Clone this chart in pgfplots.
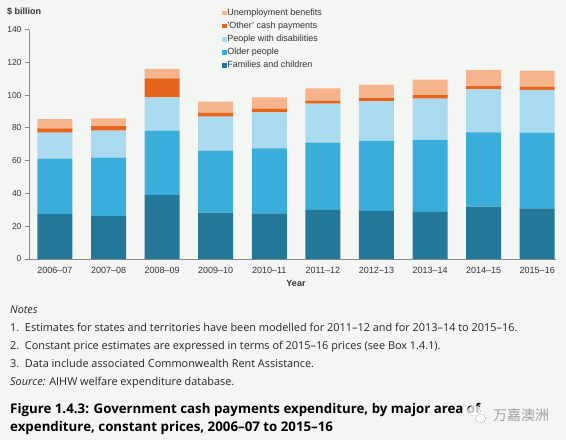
\documentclass[border=0pt]{standalone}
\usepackage{pgfplots}
\pgfplotsset{compat=1.18}
\usepackage{fontspec}
\setmainfont{Liberation Sans}
\newfontfamily\notesfont{Open Sans}
\newfontfamily\cjk{Noto Sans CJK SC}
\definecolor{bg}{HTML}{F4F6F3}
\definecolor{fam}{HTML}{24799A}
\definecolor{old}{HTML}{3AADDB}
\definecolor{dis}{HTML}{A9DAF0}
\definecolor{oth}{HTML}{E8641C}
\definecolor{une}{HTML}{F6B48C}
\definecolor{txt}{HTML}{333333}
\definecolor{axl}{HTML}{8A8A8A}
\begin{document}
\begin{tikzpicture}[x=1pt,y=1pt]
\fill[bg] (0pt,0pt) rectangle (566pt,-440pt);
\useasboundingbox (0pt,0pt) rectangle (566pt,-440pt);
\begin{axis}[
  at={(29pt,-259pt)}, anchor=south west,
  scale only axis, width=527pt, height=229.5pt,
  ybar stacked, bar width=35pt,
  ymin=0, ymax=140, xmin=-0.485, xmax=9.35,
  axis x line*=bottom, axis y line*=left,
  axis line style={axl, line width=0.9pt},
  ytick={0,20,...,140},
  xtick={0,...,9},
  xticklabels={2006–07,2007–08,2008–09,2009–10,2010–11,2011–12,2012–13,2013–14,2014–15,2015–16},
  x tick style={draw=none},
  y tick style={axl, line width=0.8pt},
  tick align=outside, major tick length=4pt,
  /pgf/number format/assume math mode=true,
  yticklabel style={font=\fontsize{8.5}{9}\selectfont, text=txt},
  xticklabel style={font=\fontsize{9}{10}\selectfont, text=txt, yshift=-0.5pt},
  xlabel={Year},
  xlabel style={font=\bfseries\fontsize{9}{10}\selectfont, text=txt, yshift=-0.5pt, xshift=3.5pt},
  reverse legend,
  legend cell align=left,
  legend style={at={(0.3666,1.0929)}, anchor=north west, draw=none, fill=none,
    font=\fontsize{9}{10}\selectfont, text=txt, inner sep=0pt,
    row sep=3.6pt, nodes={inner sep=0.5pt, text height=6.5pt, text depth=2pt}},
  legend image code/.code={\fill[#1,draw=none] (0pt,-2.2pt) rectangle (4.4pt,2.2pt);},
  clip=false,
]
\addplot[fill=fam, draw=none] coordinates {(0,27.5) (1,26.2) (2,39.0) (3,28.3) (4,27.9) (5,29.9) (6,29.3) (7,28.7) (8,31.9) (9,30.9)};
\addplot[fill=old, draw=none] coordinates {(0,33.7) (1,35.6) (2,39.3) (3,37.8) (4,39.6) (5,41.1) (6,42.7) (7,43.9) (8,45.4) (9,46.2)};
\addplot[fill=dis, draw=none] coordinates {(0,15.9) (1,16.5) (2,20.3) (3,20.7) (4,22.0) (5,23.8) (6,24.2) (7,25.2) (8,26.2) (9,26.0)};
\addplot[fill=oth, draw=none] coordinates {(0,2.6) (1,2.7) (2,11.6) (3,2.5) (4,2.2) (5,1.8) (6,2.0) (7,2.1) (8,2.0) (9,2.0)};
\addplot[fill=une, draw=none] coordinates {(0,5.7) (1,4.8) (2,5.8) (3,6.7) (4,6.9) (5,7.5) (6,8.2) (7,9.5) (8,9.8) (9,9.8)};
\legend{Families and children,Older people,People with disabilities,'Other' cash payments,Unemployment benefits}
\end{axis}
\node[anchor=west, font=\bfseries\fontsize{9}{10}\selectfont, text=txt, inner sep=0pt] at (7pt,-11pt) {\$ billion};
\begin{scope}[every node/.style={anchor=base west, inner sep=0pt, text=black!85}]
\node[font=\notesfont\itshape\fontsize{10.8}{12}\selectfont] at (10pt,-313pt) {Notes};
\node[font=\notesfont\fontsize{10.9}{12}\selectfont] at (10pt,-331pt) {1.\ \ Estimates for states and territories have been modelled for 2011–12 and for 2013–14 to 2015–16.};
\node[font=\notesfont\fontsize{10.9}{12}\selectfont] at (10pt,-349.5pt) {2.\ \ Constant price estimates are expressed in terms of 2015–16 prices (see Box 1.4.1).};
\node[font=\notesfont\fontsize{10.9}{12}\selectfont] at (10pt,-367.5pt) {3.\ \ Data include associated Commonwealth Rent Assistance.};
\node[font=\notesfont\fontsize{10.9}{12}\selectfont] at (10pt,-385.5pt) {\textit{Source:} AIHW welfare expenditure database.};
\node[font=\notesfont\bfseries\fontsize{13.3}{15}\selectfont, text=black] at (10pt,-413pt) {Figure 1.4.3: Government cash payments expenditure, by major area of};
\node[font=\notesfont\bfseries\fontsize{13.3}{15}\selectfont, text=black] at (10pt,-431.5pt) {expenditure, constant prices, 2006–07 to 2015–16};
\end{scope}
% watermark
\fill[white, opacity=0.75] (475pt,-412pt) ellipse (8pt and 6.5pt);
\draw[gray!55, line width=0.6pt, dash pattern=on 1.5pt off 0.8pt] (474pt,-411pt) ellipse (6.5pt and 5pt);
\fill[white, opacity=0.85] (480.5pt,-418.5pt) ellipse (6pt and 4.8pt);
\draw[gray!55, line width=0.6pt, dash pattern=on 1.5pt off 0.8pt] (480.5pt,-418.5pt) ellipse (5.2pt and 4.2pt);
\node[anchor=west, font=\cjk\fontsize{14}{15}\selectfont, text=gray!75, inner sep=0pt] at (493pt,-415pt) {万嘉澳洲};
\end{tikzpicture}
\end{document}
